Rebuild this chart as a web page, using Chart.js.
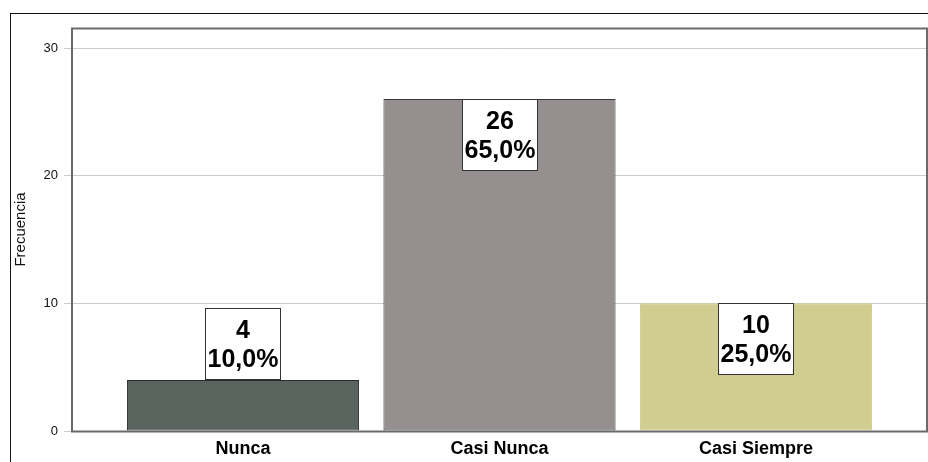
<!DOCTYPE html>
<html>
<head>
<meta charset="utf-8">
<script src="https://cdn.jsdelivr.net/npm/chart.js@4.4.1/dist/chart.umd.min.js"></script>
<style>
  html, body { margin: 0; padding: 0; background: #fff; overflow: hidden; }
  #wrap { position: relative; width: 928px; height: 462px; overflow: hidden; }
  #frame { position: absolute; left: 10px; top: 13px; width: 1000px; height: 1000px; border: 1px solid #111; box-sizing: border-box; }
  canvas { position: absolute; left: 0; top: 0; }
</style>
</head>
<body>
<div id="wrap">
  <div id="frame"></div>
  <canvas id="c" width="928" height="462"></canvas>
</div>
<script>
const categories = ['Nunca', 'Casi Nunca', 'Casi Siempre'];
const counts = [4, 26, 10];
const percents = [10.0, 65.0, 25.0];
const barColors = ['#5a645e', '#958f8f', '#d1cc8f'];
const barBorders = ['#2b2b2b', '#3a3a3a', '#d1cc8f'];
const yTicks = [0, 10, 20, 30];
const yTitle = 'Frecuencia';

const labelBoxes = {
  id: 'labelBoxes',
  afterDatasetsDraw(chart) {
    const ctx = chart.ctx;
    const meta = chart.getDatasetMeta(0);
    const area = chart.chartArea;
    ctx.save();
    ctx.strokeStyle = '#6a6a6a';
    ctx.lineWidth = 2;
    ctx.strokeRect(area.left, area.top + 0.5, area.right - area.left, area.bottom - area.top);
    const bw = 76, bh = 72;
    meta.data.forEach((bar, i) => {
      const h = bar.base - bar.y;
      let top = h >= bh + 4 ? bar.y : bar.y - bh;
      const left = Math.round(bar.x - bw / 2);
      top = Math.round(top);
      ctx.fillStyle = '#ffffff';
      ctx.fillRect(left, top, bw, bh);
      ctx.strokeStyle = '#333';
      ctx.lineWidth = 1;
      ctx.strokeRect(left + 0.5, top + 0.5, bw - 1, bh - 1);
      ctx.fillStyle = '#000';
      ctx.font = 'bold 25px "Liberation Sans", Arial, sans-serif';
      ctx.textAlign = 'center';
      ctx.textBaseline = 'middle';
      ctx.fillText(String(counts[i]), left + bw / 2, top + 23);
      ctx.fillText(percents[i].toFixed(1).replace('.', ',') + '%', left + bw / 2, top + 52);
    });
    ctx.restore();
  }
};

new Chart(document.getElementById('c'), {
  type: 'bar',
  data: {
    datasets: [{
      data: counts.map((v, i) => ({ x: i, y: v })),
      backgroundColor: barColors,
      borderColor: barBorders,
      borderWidth: 1,
      borderSkipped: false,
      categoryPercentage: 1,
      barPercentage: 0.905
    }]
  },
  options: {
    responsive: false,
    animation: false,
    devicePixelRatio: 1,
    layout: { padding: { top: 28, right: 1, left: 0, bottom: 0 } },
    plugins: { legend: { display: false }, tooltip: { enabled: false } },
    scales: {
      x: {
        type: 'linear',
        min: -0.6667,
        max: 2.6667,
        offset: false,
        afterFit(s) { s.height = 31; },
        afterBuildTicks(s) { s.ticks = categories.map((c, i) => ({ value: i })); },
        grid: { display: false, drawTicks: false },
        border: { display: false },
        ticks: {
          autoSkip: false,
          maxRotation: 0,
          padding: 7,
          color: '#000',
          font: { family: '"Liberation Sans", Arial, sans-serif', size: 18, weight: 'bold' },
          callback: (v) => categories[v]
        }
      },
      y: {
        min: 0,
        max: 31.57,
        afterFit(s) { s.width = 72; },
        afterBuildTicks(s) { s.ticks = yTicks.map(v => ({ value: v })); },
        grid: { color: '#cccccc', lineWidth: 1, tickLength: 8 },
        border: { display: false },
        ticks: {
          padding: 6,
          color: '#111',
          font: { family: '"Liberation Sans", Arial, sans-serif', size: 13 }
        },
        title: {
          display: true,
          text: yTitle,
          color: '#111',
          padding: { top: 12, bottom: 0 },
          font: { family: '"Liberation Sans", Arial, sans-serif', size: 15 }
        }
      }
    }
  },
  plugins: [labelBoxes]
});
</script>
</body>
</html>
